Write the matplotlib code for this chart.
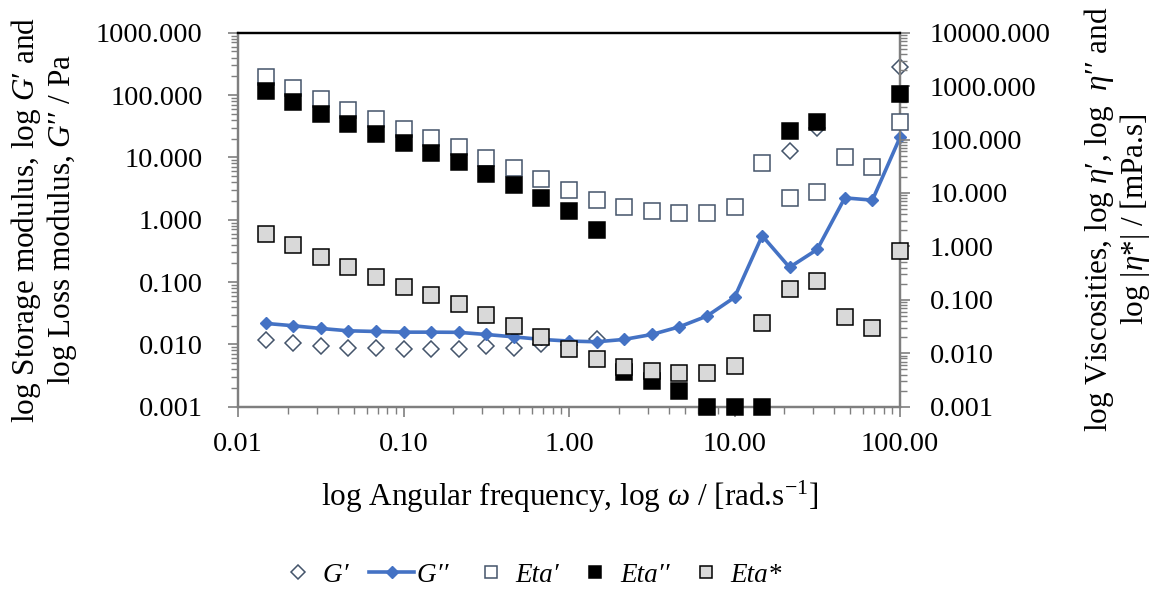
import numpy as np
import matplotlib
matplotlib.use("Agg")
import matplotlib.pyplot as plt
from matplotlib.ticker import FixedLocator, FuncFormatter, LogLocator, NullFormatter
from matplotlib.lines import Line2D

plt.rcParams['font.family'] = ['Liberation Serif', 'DejaVu Serif']
plt.rcParams['mathtext.fontset'] = 'custom'
plt.rcParams['mathtext.rm'] = 'Liberation Serif'
plt.rcParams['mathtext.it'] = 'Liberation Serif:italic'

nan = np.nan

# angular frequency, rad/s (6 points per decade)
omega = [0.0147, 0.0215, 0.0316, 0.0464, 0.0681, 0.1, 0.147, 0.215, 0.316, 0.464,
         0.681, 1.0, 1.47, 2.15, 3.16, 4.64, 6.81, 10.0, 14.7, 21.5, 31.6, 46.4,
         68.1, 100.0]

# moduli, Pa (left axis)
g_storage = [0.0117, 0.0106, 0.0095, 0.0089, 0.0087, 0.0085, 0.0083, 0.0083, 0.0095,
             0.0087, 0.0101, 0.0096, 0.0121, nan, nan, nan, nan, nan, nan, 12.7,
             29.2, nan, nan, 277.0]
g_loss = [0.0217, 0.0199, 0.0180, 0.0165, 0.0161, 0.0157, 0.0157, 0.0156, 0.0144,
          0.0132, 0.0120, 0.0113, 0.0110, 0.0120, 0.0144, 0.0191, 0.0284, 0.0567,
          0.552, 0.172, 0.333, 2.24, 2.06, 20.9]

# viscosities, mPa.s (right axis)
eta_real = [1496, 931, 565, 356, 238, 155, 106, 71.3, 45.6, 28.9, 17.9, 11.2, 7.36,
            5.52, 4.58, 4.15, 4.15, 5.52, 36.7, 7.92, 10.4, 47.0, 30.9, 215]
eta_imag = [807, 502, 300, 195, 128, 84.7, 56.5, 37.4, 22.6, 14.1, 7.92, 4.64, 2.02,
            0.0045, 0.00305, 0.00196, 0.001, 0.001, 0.001, 146, 215, nan, nan, 700]
eta_abs = [1.70, 1.05, 0.640, 0.405, 0.270, 0.175, 0.123, 0.0822, 0.0512, 0.0327,
           0.0198, 0.0121, 0.00778, 0.00558, 0.00464, 0.00420, 0.00420, 0.00575,
           0.0362, 0.157, 0.224, 0.0470, 0.0300, 0.828]

x_ticks = [0.01, 0.1, 1, 10, 100]
left_ticks = [0.001, 0.01, 0.1, 1, 10, 100, 1000]
right_ticks = [0.001, 0.01, 0.1, 1, 10, 100, 1000, 10000]

blue = '#4472c4'
slate = '#44546a'
grey = '#7f7f7f'
fs_tick = 20.5
fs_label = 22.5
fs_leg = 19.5

fig = plt.figure(figsize=(11.6, 5.9), dpi=100)
ax = fig.add_axes([238 / 1160, 1 - 406.7 / 590, 662 / 1160, 374 / 590])
ax2 = ax.twinx()

ax.plot(omega, g_storage, ls='none', marker='D', ms=8.6, mfc='white', mec=slate,
        mew=1.1, clip_on=False, zorder=3)
ax.plot(omega, g_loss, color=blue, lw=2.6, marker='D', ms=5.8, mfc=blue, mec=blue,
        clip_on=False, zorder=4)
ax2.plot(omega, eta_real, ls='none', marker='s', ms=11.5, mfc='white', mec=slate,
         mew=1.1, clip_on=False, zorder=3)
ax2.plot(omega, eta_imag, ls='none', marker='s', ms=11.5, mfc='black', mec='black',
         mew=1.1, clip_on=False, zorder=4)
ax2.plot(omega, eta_abs, ls='none', marker='s', ms=11.5, mfc='#d9d9d9', mec='black',
         mew=1.1, clip_on=False, zorder=5)

ax.set_xscale('log')
ax.set_yscale('log')
ax2.set_yscale('log')
ax.set_xlim(0.01, 100)
ax.set_ylim(0.001, 1000)
ax2.set_ylim(0.001, 10000)

ax.xaxis.set_major_locator(FixedLocator(x_ticks))
ax.xaxis.set_major_formatter(FuncFormatter(lambda v, p: '%.2f' % v))
ax.yaxis.set_major_locator(FixedLocator(left_ticks))
ax.yaxis.set_major_formatter(FuncFormatter(lambda v, p: '%.3f' % v))
ax2.yaxis.set_major_locator(FixedLocator(right_ticks))
ax2.yaxis.set_major_formatter(FuncFormatter(lambda v, p: '%.3f' % v))
for a in (ax.xaxis, ax.yaxis, ax2.yaxis):
    a.set_minor_locator(LogLocator(base=10, subs=np.arange(2, 10), numticks=20))
    a.set_minor_formatter(NullFormatter())

for a in (ax, ax2):
    a.tick_params(which='major', direction='out', length=7.5, width=1.2, color=grey,
                  labelsize=fs_tick)
    a.tick_params(which='minor', direction='out', length=5, width=1.0, color=grey)
    for s in ('left', 'right', 'bottom'):
        a.spines[s].set_color(grey)
        a.spines[s].set_linewidth(1.6)
    a.spines['top'].set_color('black')
    a.spines['top'].set_linewidth(1.6)
ax.tick_params(axis='y', which='major', pad=18)
ax.tick_params(axis='x', which='major', pad=11)
ax2.tick_params(axis='y', which='major', pad=14)

fig.text(44 / 1160, 1 - 219.6 / 590,
         "log Storage modulus, log $G$′ and\nlog Loss modulus, $G$′′ / Pa",
         rotation=90, ha='center', va='center', fontsize=fs_label, linespacing=1.05)
fig.text(1117 / 1160, 1 - 219.6 / 590,
         "log Viscosities, log $\\eta$′, log  $\\eta$′′ and\nlog |$\\eta$*| / [mPa.s]",
         rotation=90, ha='center', va='center', fontsize=fs_label, linespacing=1.1)
fig.text(570 / 1160, 1 - 497 / 590,
         "log Angular frequency, log $\\omega$ / [rad.s$^{-1}$]",
         ha='center', va='center', fontsize=fs_label)

handles = [
    Line2D([], [], ls='none', marker='D', ms=7, mfc='white', mec=slate, mew=1.1),
    Line2D([], [], color=blue, lw=2.6, marker='D', ms=5.8, mfc=blue, mec=blue),
    Line2D([], [], ls='none', marker='s', ms=9, mfc='white', mec=slate, mew=1.1),
    Line2D([], [], ls='none', marker='s', ms=9, mfc='black', mec='black', mew=1.1),
    Line2D([], [], ls='none', marker='s', ms=9, mfc='#d9d9d9', mec='black', mew=1.1),
]
labels = ['G′ ', 'G′′ ', 'Eta′', 'Eta′′', 'Eta*']
fig.legend(handles, labels, loc='center', bbox_to_anchor=(529 / 1160, 1 - 575 / 590),
           ncol=5, frameon=False, handlelength=1.65, handletextpad=0.1,
           columnspacing=0.5, prop={'size': fs_leg, 'style': 'italic'})

fig.savefig('out.png', dpi=100)
